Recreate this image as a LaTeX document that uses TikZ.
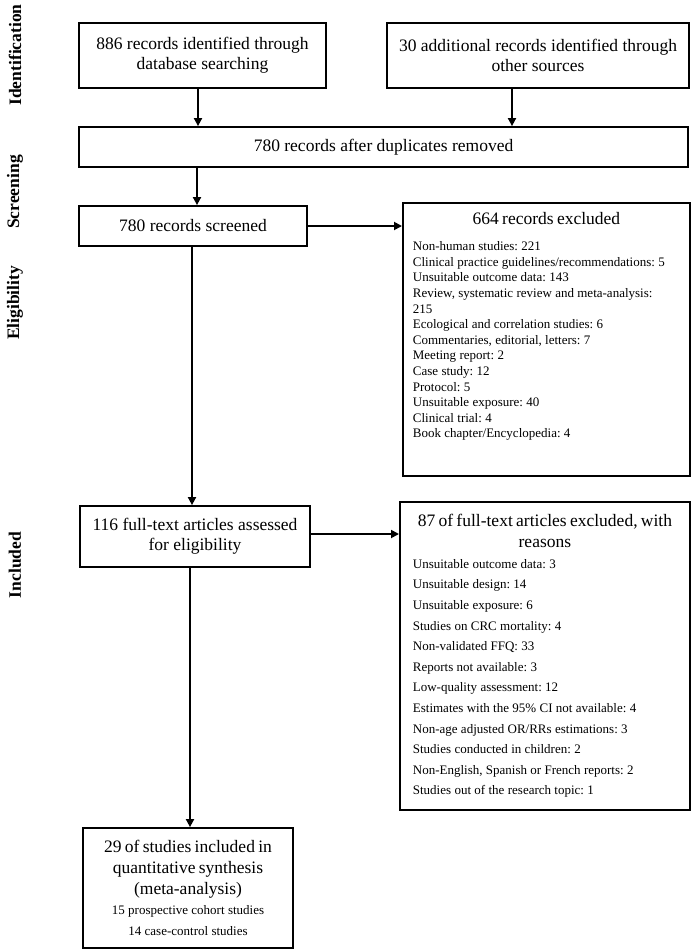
\documentclass[tikz,border=0pt]{standalone}
\usepackage{fontspec}
\setmainfont{Liberation Serif}
\frenchspacing
\usetikzlibrary{arrows.meta}
\begin{document}
\begin{tikzpicture}[
        x=1pt,
        y=-1pt,
        box/.style={draw=black, line width=1.8pt, align=center, inner sep=0pt,
            font=\fontsize{17.5}{20}\selectfont},
        listbox/.style={draw=black, line width=1.8pt, anchor=north west},
        finalbox/.style={draw=black, line width=1.8pt, inner xsep=5pt},
        stage/.style={rotate=90, font=\fontsize{17.5}{20}\selectfont\bfseries},
        arr/.style={-{Triangle[length=8pt,width=8pt]}, line width=1.8pt}]
\useasboundingbox (0,0) rectangle (693,950);
\node[stage] (identification) at (15,55) {Identification};
\node[stage] (screening) at (15,192) {Screening};
\node[stage] (eligibility) at (15,303) {Eligibility};
\node[stage] (inclusion) at (15,565) {Included};
\node[box, minimum width=247, minimum height=65] (database) at (202.5,55.5)
    {886 records identified through\\database searching};
\node[box, minimum width=302, minimum height=65] (othersources) at (538,55.5)
    {30 additional records identified through\\other sources};
\node[box, minimum width=609, minimum height=40] (duplicates) at (383.5,147)
    {780 records after duplicates removed};
\node[box, minimum width=228, minimum height=40] (screened) at (193,226)
    {780 records screened};
\node[listbox, text width=267, inner xsep=10pt, inner ysep=9pt] (excluded) at (402,202)
    {\centering\fontsize{17.5}{20}\selectfont 664 records excluded\par
     \vspace{11pt}
     \raggedright\fontsize{13}{15.6}\selectfont
     Non-human studies: 221\\
     Clinical practice guidelines/recommendations: 5\\
     Unsuitable outcome data: 143\\
     Review, systematic review and meta-analysis:\\
     215\\
     Ecological and correlation studies: 6\\
     Commentaries, editorial, letters: 7\\
     Meeting report: 2\\
     Case study: 12\\
     Protocol: 5\\
     Unsuitable exposure: 40\\
     Clinical trial: 4\\
     Book chapter/Encyclopedia: 4\rule[-29pt]{0pt}{0pt}\par};
\node[box, minimum width=230, minimum height=61] (fulltext) at (195,536.5)
    {116 full-text articles assessed\\for eligibility};
\node[listbox, text width=264, inner xsep=13pt, inner ysep=12pt] (reasons) at (399,501)
    {\centering\fontsize{17.5}{21.5}\selectfont 87 of full-text articles excluded, with\\reasons\par
     \raggedright\fontsize{13}{20.6}\selectfont
     Unsuitable outcome data: 3\\
     Unsuitable design: 14\\
     Unsuitable exposure: 6\\
     Studies on CRC mortality: 4\\
     Non-validated FFQ: 33\\
     Reports not available: 3\\
     Low-quality assessment: 12\\
     Estimates with the 95\% CI not available: 4\\
     Non-age adjusted OR/RRs estimations: 3\\
     Studies conducted in children: 2\\
     Non-English, Spanish or French reports: 2\\
     Studies out of the research topic: 1\par};
\node[finalbox, minimum width=210, minimum height=120, text width=200] (included) at (188,888)
    {\centering\fontsize{17.5}{20.8}\selectfont 29 of studies included in\\quantitative synthesis\\(meta-analysis)\par
     \fontsize{13}{20.7}\selectfont 15 prospective cohort studies\\14 case-control studies\par};
\draw[arr] ([xshift=-4.5pt]database.south) -- ([xshift=-4.5pt]database.south |- duplicates.north);
\draw[arr] ([xshift=-26pt]othersources.south) -- ([xshift=-26pt]othersources.south |- duplicates.north);
\draw[arr] ([xshift=4pt]screened.north |- duplicates.south) -- ([xshift=4pt]screened.north);
\draw[arr] (screened.east) -- (screened.east -| excluded.west);
\draw[arr] ([xshift=-3pt]fulltext.north |- screened.south) -- ([xshift=-3pt]fulltext.north);
\draw[arr] ([yshift=2.5pt]fulltext.east) -- ([yshift=2.5pt]fulltext.east -| reasons.west);
\draw[arr] ([xshift=2pt]included.north |- fulltext.south) -- ([xshift=2pt]included.north);
\end{tikzpicture}
\end{document}
